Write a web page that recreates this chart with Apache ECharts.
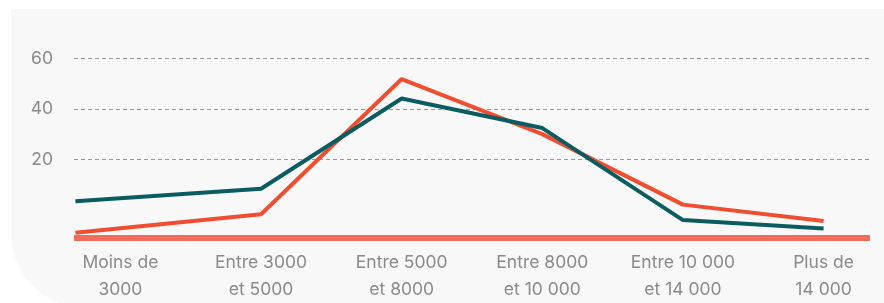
<!DOCTYPE html>
<html lang="fr">
<head>
    <meta charset="UTF-8">
    <title>Répartition par tranche</title>
    <script src="https://cdn.jsdelivr.net/npm/echarts@6/dist/echarts.min.js"></script>
    <style>
        html, body { margin: 0; padding: 0; background: #ffffff; }
        .panel {
            position: absolute; left: 11px; top: 9px; width: 880px; height: 299px;
            background: #f8f8f8; border-radius: 0 0 0 75px;
        }
        #chart { position: absolute; left: 0; top: 0; width: 884px; height: 303px; }
    </style>
</head>
<body>
<div class="panel"></div>
<div id="chart"></div>
<script>
    // catégories (tranches)
    var categories = ['Moins de\n3000', 'Entre 3000\net 5000', 'Entre 5000\net 8000',
        'Entre 8000\net 10 000', 'Entre 10 000\net 14 000', 'Plus de\n14 000'];
    // position des points sur l'axe (le premier démarre au bord de l'axe)
    var pointPos = [-0.32, 1, 2, 3, 4, 5];
    var orangeValues = [-8.9, -1.6, 51.9, 30.1, 2.2, -4.3];
    var tealValues = [3.5, 8.5, 44.2, 32.5, -3.9, -7.2];
    var yTicks = [20, 40, 60];

    function pairs(vals) {
        return vals.map(function (v, i) { return [pointPos[i], v]; });
    }

    var chart = echarts.init(document.getElementById('chart'));
    chart.setOption({
        backgroundColor: 'transparent',
        textStyle: { fontFamily: 'Inter, "Open Sans", sans-serif' },
        grid: { left: 74, right: 14, top: 8, bottom: 63 },
        xAxis: {
            type: 'value',
            min: -0.33,
            max: 5.33,
            axisLine: { show: true, onZero: false, lineStyle: { color: '#f26b5b', width: 6, cap: 'butt' } },
            axisTick: { show: false, customValues: [0, 1, 2, 3, 4, 5] },
            splitLine: { show: false },
            axisLabel: {
                customValues: [0, 1, 2, 3, 4, 5],
                formatter: function (v) { return categories[Math.round(v)]; },
                color: '#8a8a8a',
                fontSize: 17.5,
                lineHeight: 27,
                margin: 11,
                align: 'center'
            }
        },
        yAxis: {
            type: 'value',
            min: -11,
            max: 80,
            axisLine: { show: false },
            axisTick: { show: false, customValues: yTicks },
            axisLabel: {
                customValues: yTicks,
                color: '#8a8a8a',
                fontSize: 17.5,
                margin: 21
            },
            splitLine: { show: true, lineStyle: { color: '#9a9a9a', type: [4, 3], width: 1 } }
        },
        series: [
            {
                name: 'orange',
                type: 'line',
                data: pairs(orangeValues),
                symbol: 'none',
                z: 3,
                lineStyle: { color: '#f04e30', width: 4 }
            },
            {
                name: 'teal',
                type: 'line',
                data: pairs(tealValues),
                symbol: 'none',
                z: 4,
                lineStyle: { color: '#0b5c61', width: 4 }
            }
        ]
    });
</script>
</body>
</html>
